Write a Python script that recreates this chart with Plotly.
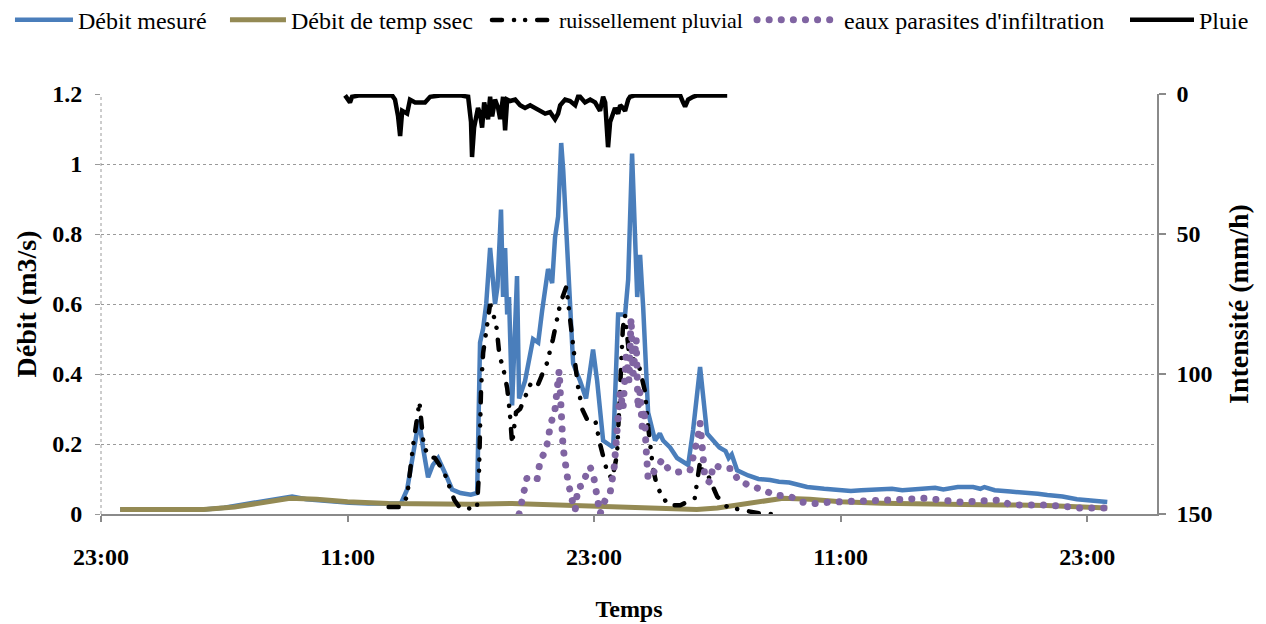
import pandas as pd
import plotly.graph_objects as go

# Time origin: first "23:00" tick of the x axis; all times are hours after it
BASE = pd.Timestamp("2010-01-10 23:00")
X_END_H = 51.4

# Débit mesuré (m3/s)
mesure_h = [0.93, 2.0, 3.5, 5.0, 6.0, 7.0, 8.0, 9.0, 9.3, 10.0, 11.0, 12.1, 13.0, 14.0, 14.6,
            14.9, 15.2, 15.48, 15.7, 15.92, 16.15, 16.41, 16.8, 17.09, 17.5, 18.0, 18.31, 18.4,
            18.45, 18.6, 18.75, 18.94, 19.18, 19.3, 19.47, 19.57, 19.67, 19.77, 19.86, 20.01,
            20.25, 20.35, 20.64, 21.03, 21.28, 21.47, 21.76, 21.96, 22.10, 22.25, 22.40, 22.5,
            22.69, 22.98, 23.32, 23.61, 23.95, 24.15, 24.44, 24.93, 25.17, 25.51, 25.66, 25.85,
            26.10, 26.24, 26.39, 26.63, 26.97, 27.2, 27.36, 27.7, 28.04, 28.58, 28.82, 29.16,
            29.50, 29.80, 30.1, 30.4, 30.55, 30.7, 30.96, 31.5, 32.0, 32.57, 33.0, 33.5, 34.0,
            34.37, 35.2, 36.0, 36.5, 37.0, 37.93, 38.5, 39.0, 40.0, 40.6, 41.0, 41.7, 42.45,
            42.8, 43.0, 43.5, 44.26, 45.2, 45.6, 46.06, 46.8, 47.5, 48.2, 48.98]
mesure_v = [0.013, 0.012, 0.012, 0.013, 0.018, 0.028, 0.038, 0.045, 0.05, 0.042, 0.036, 0.032,
            0.03, 0.028, 0.03, 0.07, 0.18, 0.27, 0.18, 0.105, 0.14, 0.16, 0.11, 0.07, 0.06, 0.055,
            0.06, 0.3, 0.49, 0.53, 0.6, 0.76, 0.6, 0.65, 0.87, 0.62, 0.76, 0.57, 0.62, 0.31, 0.68,
            0.33, 0.38, 0.5, 0.49, 0.58, 0.7, 0.66, 0.79, 0.85, 1.06, 0.98, 0.76, 0.43, 0.38,
            0.33, 0.47, 0.38, 0.21, 0.19, 0.57, 0.57, 0.67, 1.03, 0.62, 0.74, 0.59, 0.29, 0.21,
            0.23, 0.21, 0.19, 0.16, 0.14, 0.24, 0.42, 0.23, 0.21, 0.19, 0.18, 0.16, 0.17, 0.125,
            0.11, 0.10, 0.097, 0.092, 0.09, 0.082, 0.077, 0.072, 0.07, 0.066, 0.068, 0.069,
            0.072, 0.068, 0.072, 0.075, 0.07, 0.077, 0.077, 0.072, 0.077, 0.068, 0.064, 0.062,
            0.058, 0.054, 0.05, 0.042, 0.038, 0.034]

# Débit de temps sec (m3/s)
sec_h = [0.93, 3.0, 5.0, 6.5, 8.0, 9.2, 10.5, 12.0, 14.0, 16.0, 18.0, 20.0, 22.0, 24.0, 26.0,
         27.0, 28.0, 29.0, 30.0, 31.0, 32.0, 33.2, 34.5, 36.0, 38.0, 40.0, 42.0, 44.0, 46.0, 48.98]
sec_v = [0.013, 0.012, 0.013, 0.02, 0.035, 0.045, 0.042, 0.035, 0.03, 0.028, 0.028, 0.03, 0.026,
         0.022, 0.018, 0.015, 0.013, 0.013, 0.017, 0.025, 0.035, 0.045, 0.042, 0.035, 0.031,
         0.028, 0.027, 0.026, 0.024, 0.017]

# Ruissellement pluvial (m3/s)
ruis_h = [14.0, 14.6, 14.9, 15.2, 15.5, 15.7, 15.92, 16.25, 16.7, 17.2, 17.5, 18.3, 18.4, 18.45,
          18.5, 18.6, 18.75, 18.94, 19.1, 19.26, 19.4, 19.57, 19.77, 19.9, 20.01, 20.2, 20.4,
          20.9, 21.2, 21.7, 22.0, 22.2, 22.35, 22.65, 22.85, 23.0, 23.2, 23.42, 23.66, 24.05,
          24.29, 24.64, 24.88, 25.12, 25.27, 25.4, 25.5, 25.7, 26.2, 26.48, 26.63, 26.78, 26.87,
          27.07, 27.6, 28.2, 28.9, 29.16, 29.3, 29.55, 29.99, 30.48, 31.26, 32.18, 32.91]
ruis_v = [0.02, 0.02, 0.05, 0.2, 0.32, 0.2, 0.165, 0.16, 0.12, 0.04, 0.015, 0.017, 0.12, 0.29,
          0.36, 0.46, 0.53, 0.6, 0.57, 0.53, 0.45, 0.42, 0.36, 0.29, 0.2, 0.29, 0.3, 0.37, 0.36,
          0.43, 0.5, 0.55, 0.6, 0.65, 0.55, 0.45, 0.37, 0.3, 0.27, 0.27, 0.2, 0.12, 0.1, 0.17,
          0.38, 0.53, 0.57, 0.46, 0.42, 0.35, 0.25, 0.18, 0.13, 0.077, 0.025, 0.025, 0.045, 0.15,
          0.12, 0.11, 0.05, 0.02, 0.01, 0.0, 0.0]

# Eaux parasites d'infiltration (m3/s)
para_h = [20.35, 20.55, 20.74, 20.98, 21.23, 21.37, 21.62, 21.76, 21.86, 22.10, 22.2, 22.3,
          22.49, 22.59, 22.74, 22.93, 23.08, 23.22, 23.42, 23.66, 23.81, 24.0, 24.15, 24.29,
          24.54, 24.78, 24.98, 25.07, 25.17, 25.27, 25.41, 25.56, 25.7, 25.8, 25.9, 26.05,
          26.14, 26.24, 26.34, 26.44, 26.53, 26.63, 26.97, 27.31, 27.6, 28.09, 28.67, 28.87,
          29.06, 29.16, 29.26, 29.31, 29.4, 29.65, 29.8, 30.33, 30.72, 31.0, 31.6, 32.18, 32.8,
          33.54, 34.13, 34.76, 35.49, 38.41, 40.12, 41.82, 43.77, 44.26, 46.06, 47.66, 48.98]
para_v = [0.0, 0.055, 0.105, 0.1, 0.1, 0.15, 0.18, 0.21, 0.25, 0.3, 0.35, 0.41, 0.19, 0.135,
          0.09, 0.04, 0.01, 0.077, 0.08, 0.12, 0.135, 0.1, 0.04, 0.0, 0.04, 0.06, 0.135, 0.19,
          0.29, 0.35, 0.3, 0.45, 0.38, 0.56, 0.4, 0.5, 0.3, 0.35, 0.25, 0.3, 0.19, 0.1, 0.125,
          0.155, 0.13, 0.12, 0.125, 0.17, 0.22, 0.26, 0.2, 0.145, 0.1, 0.09, 0.14, 0.13, 0.13,
          0.097, 0.08, 0.07, 0.054, 0.05, 0.034, 0.03, 0.034, 0.04, 0.045, 0.034, 0.04, 0.026,
          0.026, 0.017, 0.017]

# Pluie (mm/h), right axis (reversed)
pluie_h = [11.88, 12.12, 12.22, 12.6, 13.58, 14.17, 14.31, 14.46, 14.56, 14.66, 14.9, 15.04,
           15.29, 15.77, 16.02, 16.5, 17.48, 17.87, 18.01, 18.06, 18.16, 18.26, 18.35, 18.45,
           18.55, 18.65, 18.74, 18.84, 18.94, 19.04, 19.18, 19.33, 19.43, 19.57, 19.67, 19.77,
           19.91, 20.16, 20.4, 20.64, 20.89, 21.13, 21.37, 21.62, 21.86, 22.1, 22.25, 22.35,
           22.59, 22.83, 23.08, 23.22, 23.32, 23.56, 23.81, 24.05, 24.29, 24.44, 24.54, 24.64,
           24.68, 24.78, 24.88, 25.02, 25.17, 25.27, 25.41, 25.51, 25.66, 25.75, 26.0, 26.73,
           28.19, 28.33, 28.43, 28.58, 28.67, 28.82, 29.02, 30.48]
pluie_v = [0.5, 3, 1, 0.5, 0.5, 0.5, 2, 8, 15, 6, 7, 2, 3, 3, 1, 0.5, 0.5, 1, 10, 22.5, 12, 9, 5,
           7, 12, 3, 6, 9, 1, 8, 2, 5, 9, 1, 13, 2, 2.5, 2, 4, 5, 4, 5, 6, 7, 6.5, 9, 7, 4, 2,
           2.5, 4, 1, 1, 3, 2, 3, 6, 1, 3, 12, 19, 10, 8, 5, 7, 4, 5, 6, 2, 1, 0.5, 0.5, 0.5, 3,
           4.5, 2, 1.5, 1, 0.5, 0.5]

y_ticks = [0, 0.2, 0.4, 0.6, 0.8, 1, 1.2]
y_tick_text = ["0", "0.2", "0.4", "0.6", "0.8", "1", "1.2"]
y2_ticks = [0, 50, 100, 150]


def to_time(hours):
    return BASE + pd.to_timedelta(hours, unit="h")


FONT = "Liberation Serif, Tinos, Times New Roman, DejaVu Serif, serif"
GRID = "#9a9a9a"
AXIS = "#8a8a8a"

fig = go.Figure()
fig.add_trace(go.Scatter(x=to_time(mesure_h), y=mesure_v, mode="lines", name="Débit mesuré",
                         legend="legend", line=dict(color="#4a7ebb", width=4.5)))
fig.add_trace(go.Scatter(x=to_time(sec_h), y=sec_v, mode="lines", name="Débit de temp ssec",
                         legend="legend2", line=dict(color="#948a54", width=5)))
fig.add_trace(go.Scatter(x=to_time(ruis_h), y=ruis_v, mode="lines", name="ruissellement pluvial",
                         legend="legend3",
                         line=dict(color="black", width=4.5, dash="12px,7px,4px,7px,4px,7px")))
fig.add_trace(go.Scatter(x=to_time(para_h), y=para_v, mode="lines",
                         name="eaux parasites d'infiltration", legend="legend4",
                         line=dict(color="#8064a2", width=7, dash="6px,7px")))
fig.add_trace(go.Scatter(x=to_time(pluie_h), y=pluie_v, mode="lines", name="Pluie", yaxis="y2",
                         legend="legend5", line=dict(color="black", width=4.5)))


def legend_box(x, itemwidth, size=24):
    return dict(orientation="h", xref="paper", x=x, xanchor="left",
                yref="paper", y=1.176, yanchor="middle",
                font=dict(family=FONT, size=size, weight="normal"),
                itemwidth=itemwidth, bgcolor="rgba(0,0,0,0)", borderwidth=0)


# The page body adds an 8 px offset, so the figure is 8 px smaller on each axis
fig.update_layout(
    width=1258, height=616, autosize=False,
    margin=dict(l=93, r=109, t=86, b=110, autoexpand=False),
    paper_bgcolor="white", plot_bgcolor="white",
    font=dict(family=FONT, color="black", size=24),
    showlegend=True,
    legend=legend_box(-0.0862, 58),
    legend2=legend_box(0.1174, 56),
    legend3=legend_box(0.3655, 62, size=22),
    legend4=legend_box(0.6165, 82),
    legend5=legend_box(0.9697, 64),
    xaxis=dict(
        type="date", range=[BASE, to_time([X_END_H])[0]],
        tick0=BASE, dtick=12 * 3600 * 1000, tickformat="%H:%M",
        showgrid=False, zeroline=False,
        showline=True, linecolor=AXIS, linewidth=1.5,
        ticks="outside", ticklen=6, tickcolor=AXIS, tickwidth=1.5,
        ticklabelstandoff=14,
        tickfont=dict(family=FONT, size=24, color="black", weight="bold"),
        title=dict(text="<b>Temps</b>", font=dict(family=FONT, size=24), standoff=32),
    ),
    yaxis=dict(
        range=[0, 1.2], tickvals=y_ticks, ticktext=y_tick_text,
        showgrid=True, gridcolor=GRID, gridwidth=1, griddash="dot",
        zeroline=False, showline=False,
        ticks="outside", ticklen=5, tickcolor=GRID,
        ticklabelstandoff=8,
        tickfont=dict(family=FONT, size=24, color="black", weight="bold"),
        title=dict(text="<b>Débit (m3/s)</b>", font=dict(family=FONT, size=28), standoff=7),
    ),
    yaxis2=dict(
        overlaying="y", side="right", range=[150, 0], tickvals=y2_ticks,
        showgrid=False, zeroline=False,
        showline=True, linecolor=AXIS, linewidth=1.5,
        ticks="outside", ticklen=7, tickcolor=AXIS, tickwidth=1.5,
        ticklabelstandoff=6,
        tickfont=dict(family=FONT, size=24, color="black", weight="bold"),
        title=dict(text="<b>Intensité (mm/h)</b>", font=dict(family=FONT, size=28), standoff=17),
    ),
    shapes=[dict(type="line", xref="paper", yref="paper", x0=0, x1=0, y0=0, y1=1,
                 line=dict(color=GRID, width=1, dash="dot"), layer="below")],
)

# Round caps so that the dotted styles draw round dots, as in the original chart
ROUND_CAPS_JS = """
(function () {
  var gd = document.getElementById('{plot_id}');
  function roundCaps() {
    if (!gd) { return; }
    gd.querySelectorAll('path').forEach(function (p) {
      var s = p.style;
      var dash = s.strokeDasharray;
      if (s.stroke === 'rgb(128, 100, 162)') {
        s.strokeLinecap = 'round';
        s.strokeDasharray = '0.1px, 12px';
      } else if (s.stroke === 'rgb(0, 0, 0)' && dash && dash !== 'none') {
        s.strokeLinecap = 'round';
        s.strokeDasharray = '10px, 12px, 0.1px, 11px, 0.1px, 12px';
      }
    });
  }
  roundCaps();
  setTimeout(roundCaps, 0);
  setTimeout(roundCaps, 300);
})();
"""

fig.write_html("out.html", post_script=ROUND_CAPS_JS)
